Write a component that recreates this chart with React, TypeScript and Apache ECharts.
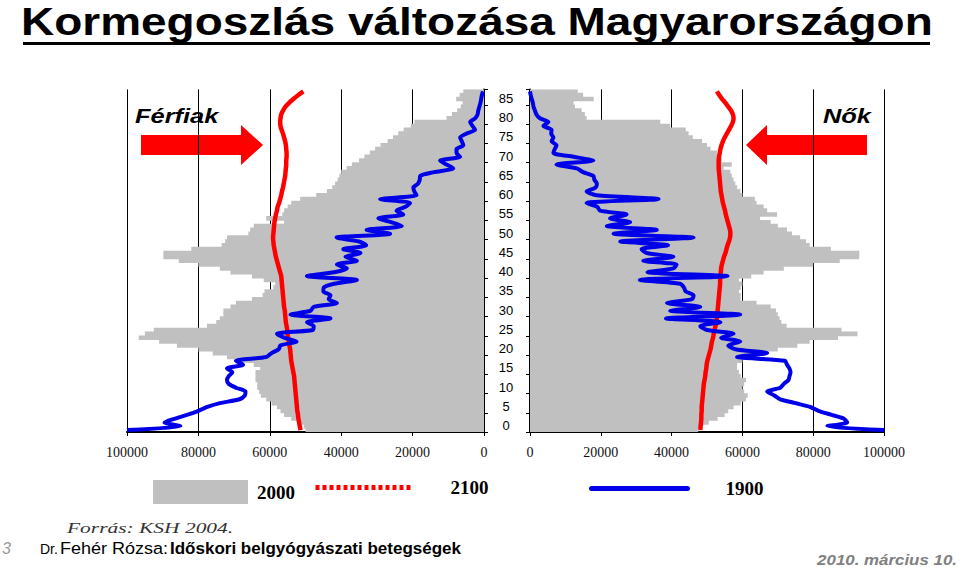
import React, { useEffect, useRef } from "react";
import * as echarts from "echarts";

// Age categories (single years)
const ages: string[] = [
  "0","1","2","3","4","5","6","7","8","9",
  "10","11","12","13","14","15","16","17","18","19",
  "20","21","22","23","24","25","26","27","28","29",
  "30","31","32","33","34","35","36","37","38","39",
  "40","41","42","43","44","45","46","47","48","49",
  "50","51","52","53","54","55","56","57","58","59",
  "60","61","62","63","64","65","66","67","68","69",
  "70","71","72","73","74","75","76","77","78","79",
  "80","81","82","83","84","85","86","87","88",
];

// 2000 – men (gray bars, left)
const men2000: number[] = [
  50000, 50500, 52000, 54000, 56000, 57000, 58000, 59500, 61000, 62500,
  63000, 63500, 63500, 64000, 64000, 64000, 62700, 64500, 68000, 72000,
  76000, 80000, 86000, 91000, 96700, 95000, 92500, 77600, 75000, 74000,
  73000, 73000, 71000, 69500, 65000, 62000, 61500, 59000, 58500, 61700,
  65000, 71000, 74000, 80000, 85500, 89800, 89800, 82000, 73500, 72500,
  72000, 66000, 65500, 64500, 56000, 61000, 56500, 56000, 55000, 54000,
  51500, 47000, 44000, 42500, 41700, 41000, 40500, 40000, 38500, 37000,
  35000, 33500, 32000, 30500, 29000, 27000, 25500, 24000, 22500, 20500,
  19500, 10500, 9000, 7500, 6500, 6000, 7800, 6800, 5800,
];

// 2000 – women (gray bars, right)
const women2000: number[] = [
  47500, 48500, 50500, 53000, 55000, 56000, 57500, 59500, 61000, 61500,
  60500, 60000, 60500, 61000, 59500, 59000, 58500, 58500, 60000, 61500,
  66500, 70000, 75500, 79000, 87000, 92500, 88000, 72500, 71000, 70500,
  70000, 69500, 68000, 64000, 59500, 59500, 59000, 59500, 60000, 59000,
  62500, 66000, 71700, 80000, 87500, 93000, 93000, 85000, 79000, 78000,
  76300, 74000, 72600, 70000, 68000, 65000, 69800, 67000, 66000, 64000,
  63500, 60000, 59400, 58500, 58000, 57500, 57000, 56600, 54700, 57000,
  54200, 53800, 52800, 51000, 50000, 48600, 46000, 44800, 44000, 39600,
  36800, 16000, 15500, 14600, 12700, 12300, 18000, 15000, 13500,
];

// 1900 – men (blue line, left)
const men1900: number[] = [
  100000, 85000, 89500, 86500, 83000, 80000, 77500, 74000, 68500, 67000,
  66800, 69500, 71500, 72000, 71500, 70500, 72000, 67500, 69500, 61000,
  59500, 57500, 57000, 52500, 56000, 58000, 48000, 47700, 49600, 43000,
  54200, 48600, 47700, 41200, 43500, 43000, 45000, 44900, 42000, 35600,
  49600, 42000, 38400, 41200, 35600, 38800, 34600, 39400, 33000, 35000,
  41300, 26300, 32900, 23000, 26000, 29600, 22600, 24500, 22000, 20700,
  29100, 18900, 19500, 19800, 18500, 18000, 17900, 14000, 8600, 10500,
  12300, 6700, 7700, 7700, 5800, 6200, 6700, 5000, 2500, 3200,
  3900, 2500, 1800, 1600, 1300, 1000, 800, 600, 300,
];

// 1900 – women (blue line, right)
const women1900: number[] = [
  100000, 84000, 89600, 88600, 85000, 81500, 79200, 75000, 70700, 69000,
  67000, 70700, 71700, 73000, 73300, 73600, 73300, 72600, 72000, 58500,
  67000, 58000, 56000, 59400, 54000, 57500, 50000, 48100, 53800, 38400,
  59400, 39600, 48100, 38700, 45800, 46200, 44000, 43500, 42400, 31000,
  55800, 33200, 40500, 41400, 32000, 40500, 33000, 31500, 39000, 25500,
  46200, 23600, 35800, 21700, 28300, 22600, 27300, 19800, 19000, 16000,
  36300, 18900, 16000, 18500, 18900, 18200, 17900, 15000, 13200, 7500,
  17900, 12300, 6600, 7000, 7500, 6100, 6600, 6000, 6100, 3800,
  5200, 2800, 1800, 1400, 1000, 800, 500, 200, 0,
];

// 2100 – men (red line, left)
const men2100: number[] = [
  51400, 51600, 51800, 52000, 52100, 52300, 52400, 52500, 52600, 52700,
  52800, 52900, 53000, 53100, 53200, 53400, 53600, 53800, 54000, 54100,
  54200, 54300, 54500, 54700, 54900, 55000, 55100, 55300, 55500, 55600,
  55700, 55800, 56000, 56100, 56200, 56300, 56400, 56500, 56600, 56700,
  56800, 57100, 57400, 57700, 58000, 58300, 58500, 58700, 58900, 59000,
  59100, 59000, 58900, 58800, 58700, 58500, 58300, 58000, 57800, 57400,
  57100, 56800, 56600, 56300, 56100, 55900, 55700, 55600, 55500, 55400,
  55400, 55300, 55300, 55400, 55500, 55700, 56000, 56300, 56700, 57000,
  57100, 57000, 56800, 56300, 55600, 54600, 53400, 52100, 50600,
];

// 2100 – women (red line, right)
const women2100: number[] = [
  48100, 48200, 48300, 48400, 48400, 48500, 48500, 48600, 48700, 48800,
  48900, 49000, 49100, 49300, 49500, 49600, 49800, 49900, 50100, 50400,
  50700, 51000, 51200, 51400, 51700, 51900, 52100, 52400, 52700, 52800,
  52900, 53000, 53100, 53200, 53300, 53400, 53500, 53600, 53700, 53700,
  53800, 53900, 54000, 54200, 54500, 54800, 55200, 55500, 55800, 56200,
  56500, 56600, 56500, 56200, 55900, 55600, 55300, 55100, 54800, 54500,
  54300, 54100, 53900, 53800, 53700, 53600, 53500, 53400, 53300, 53300,
  53300, 53400, 53600, 53800, 54100, 54500, 55000, 55600, 56200, 56800,
  57300, 57500, 57300, 56800, 56000, 55200, 54300, 53500, 52800,
];

const SANS = "Liberation Sans";
const SERIF = "Liberation Serif";

export default function App() {
  const ref = useRef<HTMLDivElement>(null);

  useEffect(() => {
    if (!ref.current) return;
    const chart = echarts.init(ref.current, null, { renderer: "svg" });

    const xAxisCommon = {
      type: "value" as const,
      min: 0,
      max: 100000,
      interval: 20000,
      axisLine: { show: true, lineStyle: { color: "#000", width: 2 } },
      axisTick: { show: true, length: 4, lineStyle: { color: "#000", width: 1 } },
      axisLabel: {
        fontFamily: SERIF,
        fontSize: 14,
        color: "#111",
        margin: 13,
        formatter: (v: number) => String(v),
      },
      splitLine: { show: true, lineStyle: { color: "#000", width: 1 } },
    };

    const yAxisCommon = {
      type: "category" as const,
      data: ages,
      boundaryGap: true,
      axisLine: { show: true, onZero: false, lineStyle: { color: "#000", width: 2 } },
      axisTick: { show: true, interval: 4, length: 4, lineStyle: { color: "#000", width: 1 } },
      splitLine: { show: false },
    };

    const toPts = (arr: number[]) => arr.map((v, i) => [v, i]);

    const legendText = {
      fontFamily: SERIF,
      fontSize: 19,
      fontWeight: "bold" as const,
      color: "#000",
    };

    const barStyle = { color: "#c0c0c0" };

    const option: any = {
      animation: false,
      backgroundColor: "#ffffff",
      grid: [
        { left: 127, right: 476, top: 89.4, bottom: 135 },
        { left: 530, right: 76, top: 89.4, bottom: 135 },
      ],
      xAxis: [
        { ...xAxisCommon, gridIndex: 0, inverse: true },
        { ...xAxisCommon, gridIndex: 1 },
      ],
      yAxis: [
        { ...yAxisCommon, gridIndex: 0, position: "right", axisLabel: { show: false } },
        {
          ...yAxisCommon,
          gridIndex: 1,
          position: "left",
          axisLabel: {
            show: true,
            interval: 4,
            align: "center",
            margin: 24,
            fontFamily: SANS,
            fontSize: 13,
            color: "#000",
            verticalAlign: "bottom",
            lineHeight: 9,
          },
        },
      ],
      legend: [
        {
          data: ["2000"],
          left: 153,
          top: 480,
          padding: 0,
          itemWidth: 95,
          itemHeight: 24,
          icon: "rect",
          selectedMode: false,
          textStyle: { ...legendText, padding: [0, 0, 0, 4] },
        },
        {
          data: ["2100"],
          left: 313,
          top: 478,
          padding: 0,
          itemWidth: 95,
          itemHeight: 24,
          selectedMode: false,
          itemStyle: { opacity: 0 },
          lineStyle: { width: 5, type: [4, 3], color: "#ff0000" },
          textStyle: { ...legendText, padding: [0, 0, 0, 35] },
        },
        {
          data: ["1900"],
          left: 589,
          top: 479,
          padding: 0,
          itemWidth: 96,
          itemHeight: 24,
          selectedMode: false,
          itemStyle: { opacity: 0 },
          lineStyle: { width: 5, cap: "round", color: "#0000e8" },
          textStyle: { ...legendText, padding: [0, 0, 0, 33] },
        },
      ],
      series: [
        {
          name: "2000",
          type: "bar",
          xAxisIndex: 0,
          yAxisIndex: 0,
          data: men2000,
          barWidth: 4.6,
          itemStyle: barStyle,
        },
        {
          name: "2000",
          type: "bar",
          xAxisIndex: 1,
          yAxisIndex: 1,
          data: women2000,
          barWidth: 4.6,
          itemStyle: barStyle,
        },
        {
          name: "2100",
          type: "line",
          xAxisIndex: 0,
          yAxisIndex: 0,
          data: toPts(men2100),
          symbol: "none",
          smooth: 0.3,
          lineStyle: { color: "#ff0000", width: 4.5 },
          itemStyle: { color: "#ff0000" },
        },
        {
          name: "2100",
          type: "line",
          xAxisIndex: 1,
          yAxisIndex: 1,
          data: toPts(women2100),
          symbol: "none",
          smooth: 0.3,
          lineStyle: { color: "#ff0000", width: 4.5 },
          itemStyle: { color: "#ff0000" },
        },
        {
          name: "1900",
          type: "line",
          xAxisIndex: 0,
          yAxisIndex: 0,
          data: toPts(men1900),
          symbol: "none",
          smooth: 0.25,
          lineStyle: { color: "#0000e8", width: 4 },
          itemStyle: { color: "#0000e8" },
        },
        {
          name: "1900",
          type: "line",
          xAxisIndex: 1,
          yAxisIndex: 1,
          data: toPts(women1900),
          symbol: "none",
          smooth: 0.25,
          lineStyle: { color: "#0000e8", width: 4 },
          itemStyle: { color: "#0000e8" },
        },
      ],
      graphic: [
        {
          type: "text",
          x: 21,
          y: 21.5,
          scaleX: 1.21,
          style: {
            text: "Kormegoszlás változása Magyarországon",
            fontFamily: SANS,
            fontWeight: "bold",
            fontSize: 38,
            fill: "#000",
            align: "left",
            verticalAlign: "middle",
          },
        },
        { type: "rect", shape: { x: 23, y: 42, width: 907, height: 3 }, style: { fill: "#000" } },
        {
          type: "text",
          x: 135,
          y: 116,
          scaleX: 1.27,
          style: {
            text: "Férfiak",
            fontFamily: SANS,
            fontWeight: "bold",
            fontStyle: "italic",
            fontSize: 20,
            fill: "#000",
            align: "left",
            verticalAlign: "middle",
          },
        },
        {
          type: "text",
          x: 823,
          y: 116,
          scaleX: 1.27,
          style: {
            text: "Nők",
            fontFamily: SANS,
            fontWeight: "bold",
            fontStyle: "italic",
            fontSize: 20,
            fill: "#000",
            align: "left",
            verticalAlign: "middle",
          },
        },
        {
          type: "polygon",
          shape: { points: [[141, 135], [241, 135], [241, 125], [263, 145], [241, 165], [241, 155], [141, 155]] },
          style: { fill: "#ff0000" },
        },
        {
          type: "polygon",
          shape: { points: [[746, 145], [767, 125], [767, 135], [867, 135], [867, 155], [767, 155], [767, 165]] },
          style: { fill: "#ff0000" },
        },
        {
          type: "text",
          x: 67,
          y: 528,
          scaleX: 1.43,
          style: {
            text: "Forrás: KSH 2004.",
            fontFamily: SERIF,
            fontStyle: "italic",
            fontSize: 15,
            fill: "#333",
            align: "left",
            verticalAlign: "middle",
          },
        },
        {
          type: "text",
          x: 2,
          y: 548,
          style: {
            text: "3",
            fontFamily: SANS,
            fontStyle: "italic",
            fontSize: 16,
            fill: "#999",
            align: "left",
            verticalAlign: "middle",
          },
        },
        {
          type: "text",
          x: 40,
          y: 549,
          style: {
            text: "Dr.",
            fontFamily: SANS,
            fontSize: 14,
            fill: "#000",
            align: "left",
            verticalAlign: "middle",
          },
        },
        {
          type: "text",
          x: 60,
          y: 548,
          scaleX: 1.06,
          style: {
            text: "Fehér Rózsa:",
            fontFamily: SANS,
            fontSize: 17,
            fill: "#000",
            align: "left",
            verticalAlign: "middle",
          },
        },
        {
          type: "text",
          x: 170,
          y: 548,
          style: {
            text: "Időskori belgyógyászati betegségek",
            fontFamily: SANS,
            fontWeight: "bold",
            fontSize: 17,
            fill: "#000",
            align: "left",
            verticalAlign: "middle",
          },
        },
        {
          type: "text",
          x: 957,
          y: 559,
          scaleX: 1.09,
          style: {
            text: "2010. március 10.",
            fontFamily: SANS,
            fontWeight: "bold",
            fontStyle: "italic",
            fontSize: 15.5,
            fill: "#808080",
            align: "right",
            verticalAlign: "middle",
          },
        },
      ],
    };

    chart.setOption(option);
    return () => {
      chart.dispose();
    };
  }, []);

  return (
    <div
      ref={ref}
      style={{ position: "fixed", left: 0, top: 0, width: 960, height: 567, background: "#fff" }}
    />
  );
}
